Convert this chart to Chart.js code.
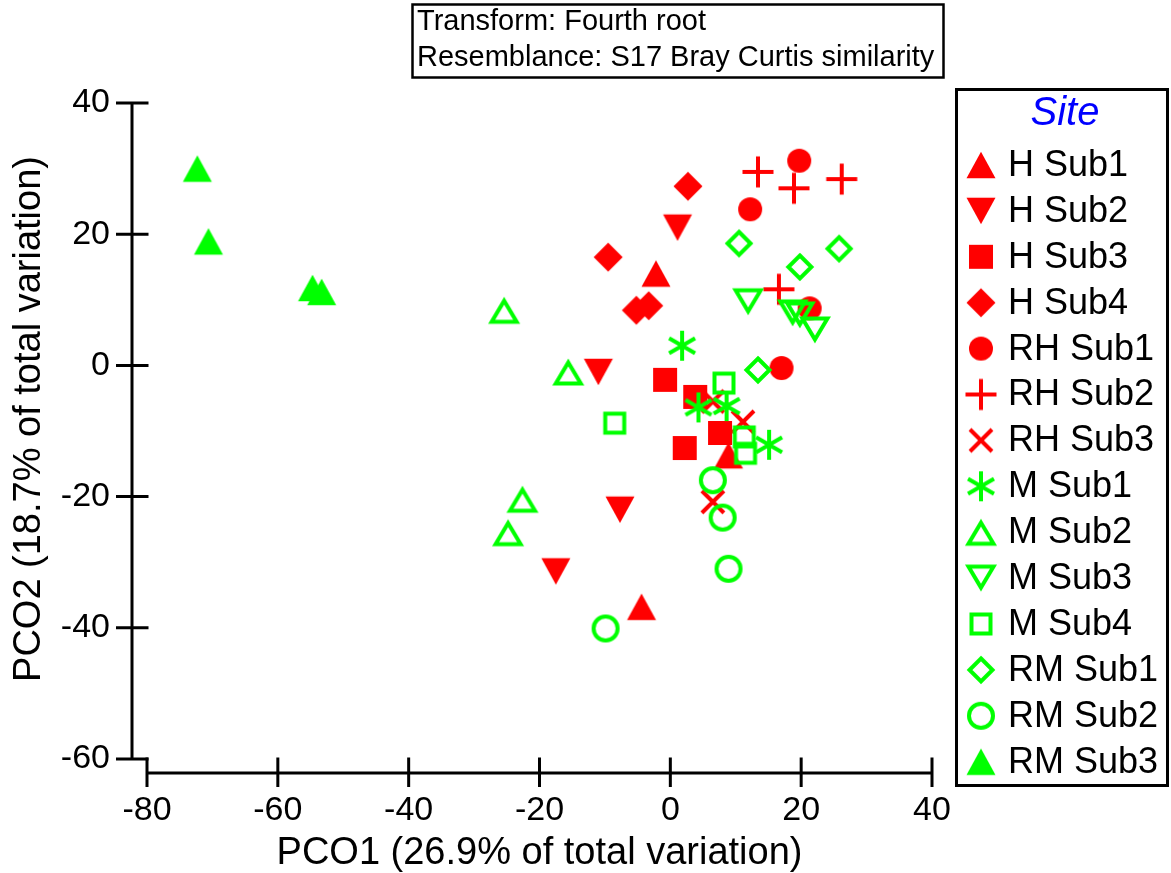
<!DOCTYPE html>
<html>
<head>
<meta charset="utf-8">
<script src="https://cdn.jsdelivr.net/npm/chart.js@4/dist/chart.umd.min.js"></script>
<style>
  html, body { margin: 0; padding: 0; background: #fff; }
  #wrap { width: 1171px; height: 873px; }
</style>
</head>
<body>
<div id="wrap"><canvas id="pco-chart" width="1171" height="873"></canvas></div>
<script>
// axis ticks
const xTicks = [-80, -60, -40, -20, 0, 20, 40]
const yTicks = [-60, -40, -20, 0, 20, 40]

// text
const xTitle = "PCO1 (26.9% of total variation)"
const yTitle = "PCO2 (18.7% of total variation)"
const noteLines = ["Transform: Fourth root", "Resemblance: S17 Bray Curtis similarity"]
const legendTitle = "Site"

// PCO scores per group, [PCO1, PCO2]
const hSub1 = [[-2.2, 14.0], [8.9, -13.7], [-4.4, -36.8]]
const hSub2 = [[1.1, 21.0], [-11.0, -1.0], [-7.7, -22.0], [-17.5, -31.4]]
const hSub3 = [[-0.8, -2.2], [3.8, -4.8], [7.6, -10.3], [2.2, -12.6]]
const hSub4 = [[2.7, 27.3], [-9.5, 16.5], [-5.2, 8.4], [-3.3, 9.1]]
const rhSub1 = [[19.7, 31.2], [12.2, 23.8], [21.3, 8.7], [17.0, -0.4]]
const rhSub2 = [[13.4, 29.5], [18.9, 27.0], [26.2, 28.4], [16.6, 11.6]]
const rhSub3 = [[6.5, -5.5], [11.1, -8.6], [6.5, -20.8]]
const mSub1 = [[1.8, 3.0], [4.3, -6.4], [8.6, -6.2], [15.1, -12.1]]
const mSub2 = [[-25.4, 8.4], [-15.6, -1.0], [-22.6, -20.4], [-24.8, -25.5]]
const mSub3 = [[11.9, 9.7], [18.7, 8.0], [19.8, 7.7], [22.1, 5.4]]
const mSub4 = [[8.2, -2.7], [-8.5, -8.8], [11.3, -10.9], [11.5, -13.4]]
const rmSub1 = [[10.5, 18.6], [25.8, 17.8], [19.8, 15.0], [13.4, -0.7]]
const rmSub2 = [[6.5, -17.5], [8.0, -23.2], [8.9, -31.0], [-9.9, -40.1]]
const rmSub3 = [[-72.3, 30.0], [-70.6, 18.9], [-54.7, 11.8], [-53.3, 11.2]]

const RED = "#ff0000"
const GREEN = "#00ff00"
const FONT = "'Liberation Sans', Arial, sans-serif"

// marker images, drawn centred on their box
const makeMarker = (shape, color) => {
    const size = 44
    const c = document.createElement("canvas")
    c.width = size
    c.height = size
    const g = c.getContext("2d")
    g.translate(size / 2, size / 2)
    g.fillStyle = color
    g.strokeStyle = color
    g.lineWidth = 4
    g.lineJoin = "miter"
    g.beginPath()
    switch (shape) {
        case "triUp":
            g.moveTo(0, -13.3); g.lineTo(14.5, 13.3); g.lineTo(-14.5, 13.3); g.closePath(); g.fill()
            break
        case "triDown":
            g.moveTo(0, 13.3); g.lineTo(14.5, -13.3); g.lineTo(-14.5, -13.3); g.closePath(); g.fill()
            break
        case "square":
            g.rect(-12, -12, 24, 24); g.fill()
            break
        case "diamond":
            g.moveTo(0, -14.5); g.lineTo(14.5, 0); g.lineTo(0, 14.5); g.lineTo(-14.5, 0); g.closePath(); g.fill()
            break
        case "circle":
            g.arc(0, 0, 12, 0, Math.PI * 2); g.fill()
            break
        case "plus":
            g.moveTo(-15.5, 0); g.lineTo(15.5, 0); g.moveTo(0, -15.5); g.lineTo(0, 15.5); g.stroke()
            break
        case "cross":
            g.moveTo(-11, -11); g.lineTo(11, 11); g.moveTo(11, -11); g.lineTo(-11, 11); g.stroke()
            break
        case "asterisk":
            for (const a of [90, 30, 150]) {
                const r = a * Math.PI / 180
                g.moveTo(Math.cos(r) * 15, -Math.sin(r) * 15)
                g.lineTo(-Math.cos(r) * 15, Math.sin(r) * 15)
            }
            g.stroke()
            break
        case "triUpOpen":
            g.moveTo(0, -9.5); g.lineTo(12.5, 11.5); g.lineTo(-12.5, 11.5); g.closePath(); g.stroke()
            break
        case "triDownOpen":
            g.moveTo(0, 9.5); g.lineTo(12.5, -11.5); g.lineTo(-12.5, -11.5); g.closePath(); g.stroke()
            break
        case "squareOpen":
            g.rect(-9.5, -9.5, 19, 19); g.stroke()
            break
        case "diamondOpen":
            g.moveTo(0, -11.5); g.lineTo(11.5, 0); g.lineTo(0, 11.5); g.lineTo(-11.5, 0); g.closePath(); g.stroke()
            break
        case "circleOpen":
            g.arc(0, 0, 12, 0, Math.PI * 2); g.stroke()
            break
    }
    return c
}

const groups = [
    { label: "H Sub1", data: hSub1, shape: "triUp", color: RED },
    { label: "H Sub2", data: hSub2, shape: "triDown", color: RED },
    { label: "H Sub3", data: hSub3, shape: "square", color: RED },
    { label: "H Sub4", data: hSub4, shape: "diamond", color: RED },
    { label: "RH Sub1", data: rhSub1, shape: "circle", color: RED },
    { label: "RH Sub2", data: rhSub2, shape: "plus", color: RED },
    { label: "RH Sub3", data: rhSub3, shape: "cross", color: RED },
    { label: "M Sub1", data: mSub1, shape: "asterisk", color: GREEN },
    { label: "M Sub2", data: mSub2, shape: "triUpOpen", color: GREEN },
    { label: "M Sub3", data: mSub3, shape: "triDownOpen", color: GREEN },
    { label: "M Sub4", data: mSub4, shape: "squareOpen", color: GREEN },
    { label: "RM Sub1", data: rmSub1, shape: "diamondOpen", color: GREEN },
    { label: "RM Sub2", data: rmSub2, shape: "circleOpen", color: GREEN },
    { label: "RM Sub3", data: rmSub3, shape: "triUp", color: GREEN }
]

groups.forEach(gr => { gr.marker = makeMarker(gr.shape, gr.color) })

const datasets = groups.map(gr => ({
    label: gr.label,
    data: gr.data.map(p => ({ x: p[0], y: p[1] })),
    pointStyle: gr.marker,
    pointRadius: 15,
    pointHoverRadius: 15,
    backgroundColor: gr.color,
    borderColor: gr.color,
    // green groups sit on top of the red ones
    order: gr.color === GREEN ? 0 : 1,
    clip: false
}))

// detached axis lines, crossing ticks, titles, note box and legend
const decorPlugin = {
    id: "decor",
    afterDraw(chart) {
        const ctx = chart.ctx
        const area = chart.chartArea
        const xs = chart.scales.x
        const ys = chart.scales.y
        ctx.save()
        ctx.strokeStyle = "#000"
        ctx.lineWidth = 3
        ctx.lineCap = "butt"

        // y axis
        const yAxisX = area.left - 15
        ctx.beginPath()
        ctx.moveTo(yAxisX, ys.getPixelForValue(yTicks[yTicks.length - 1]) - 1.5)
        ctx.lineTo(yAxisX, ys.getPixelForValue(yTicks[0]) + 1.5)
        yTicks.forEach(v => {
            const py = ys.getPixelForValue(v)
            ctx.moveTo(area.left - 31, py)
            ctx.lineTo(area.left + 1.5, py)
        })
        ctx.stroke()

        // x axis
        const xAxisY = area.bottom + 14
        ctx.beginPath()
        ctx.moveTo(xs.getPixelForValue(xTicks[0]), xAxisY)
        ctx.lineTo(xs.getPixelForValue(xTicks[xTicks.length - 1]) + 1.5, xAxisY)
        xTicks.forEach(v => {
            const px = xs.getPixelForValue(v)
            ctx.moveTo(px, area.bottom - 1.5)
            ctx.lineTo(px, area.bottom + 28)
        })
        ctx.stroke()

        // axis titles
        ctx.fillStyle = "#000"
        ctx.font = "38px " + FONT
        ctx.textAlign = "center"
        ctx.textBaseline = "middle"
        ctx.fillText(xTitle, (area.left + area.right) / 2, 854)
        ctx.save()
        ctx.translate(30, 419)
        ctx.rotate(-Math.PI / 2)
        ctx.fillText(yTitle, 0, 0)
        ctx.restore()

        // note box
        ctx.lineWidth = 2.5
        ctx.strokeRect(412.5, 4.5, 531, 73)
        ctx.font = "29px " + FONT
        ctx.textAlign = "left"
        ctx.fillText(noteLines[0], 417, 22)
        ctx.fillText(noteLines[1], 417, 58)

        // legend
        ctx.lineWidth = 3
        ctx.strokeRect(956.5, 89.5, 211, 696)
        ctx.fillStyle = "#0000ff"
        ctx.font = "italic 40px " + FONT
        ctx.textAlign = "center"
        ctx.fillText(legendTitle, 1065, 114)
        ctx.fillStyle = "#000"
        ctx.font = "36px " + FONT
        ctx.textAlign = "left"
        groups.forEach((gr, i) => {
            const cy = 165 + i * 45.9
            ctx.drawImage(gr.marker, 981 - gr.marker.width / 2, cy - gr.marker.height / 2)
            ctx.fillText(gr.label, 1008, cy + 1)
        })
        ctx.restore()
    }
}

const tickFont = { family: FONT, size: 34 }

new Chart(document.getElementById("pco-chart").getContext("2d"), {
    type: "scatter",
    data: { datasets },
    options: {
        responsive: false,
        animation: false,
        devicePixelRatio: 1,
        layout: { padding: { top: 103, right: 239, left: 0, bottom: 0 } },
        plugins: { legend: { display: false }, tooltip: { enabled: false } },
        scales: {
            x: {
                type: "linear",
                min: -80,
                max: 40,
                afterBuildTicks: s => { s.ticks = xTicks.map(v => ({ value: v })) },
                afterFit: s => { s.height = 114 },
                grid: { display: true, drawOnChartArea: false, drawTicks: true, tickLength: 31, color: "rgba(0,0,0,0)" },
                border: { display: false },
                ticks: { padding: 0, color: "#000", font: tickFont, maxRotation: 0, autoSkip: false }
            },
            y: {
                type: "linear",
                min: -60,
                max: 40,
                afterBuildTicks: s => { s.ticks = yTicks.map(v => ({ value: v })) },
                afterFit: s => { s.width = 147 },
                grid: { display: true, drawOnChartArea: false, drawTicks: true, tickLength: 30, color: "rgba(0,0,0,0)" },
                border: { display: false },
                ticks: { padding: 7, color: "#000", font: tickFont, autoSkip: false }
            }
        }
    },
    plugins: [decorPlugin]
})
</script>
</body>
</html>
